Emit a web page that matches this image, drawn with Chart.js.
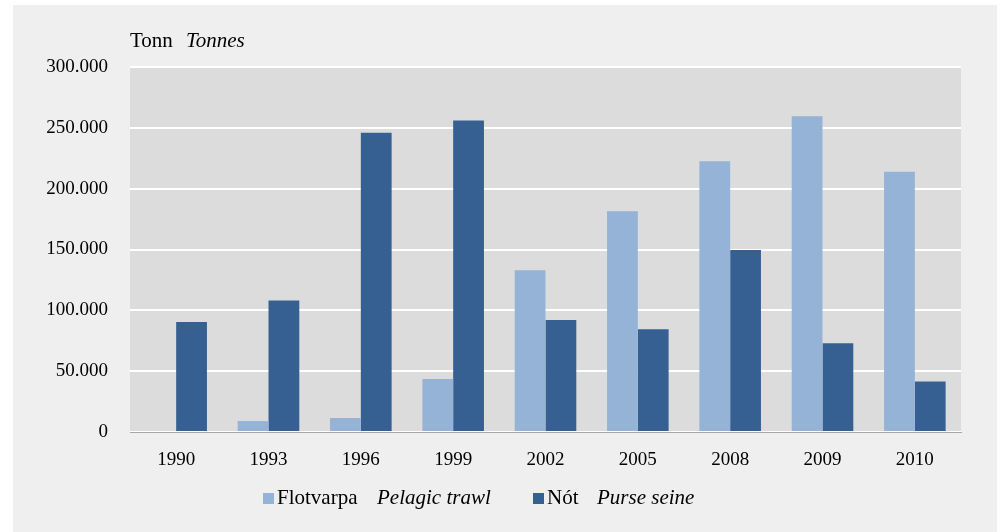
<!DOCTYPE html>
<html>
<head>
<meta charset="utf-8">
<script src="https://cdn.jsdelivr.net/npm/chart.js@4/dist/chart.umd.min.js"></script>
<style>
  html, body { margin: 0; padding: 0; background: #ffffff; }
  #wrap { position: relative; width: 1002px; height: 532px; overflow: hidden; }
  #panel { position: absolute; left: 13px; top: 5px; width: 984px; height: 527px; background: #efefef; }
  #c { position: absolute; left: 0; top: 0; }
  .txt { position: absolute; font-family: "Liberation Serif", "Times New Roman", serif; font-size: 21px; line-height: 24px; color: #000; white-space: nowrap; }
  .sw { position: absolute; width: 11px; height: 11px; }
  .it { font-style: italic; }
</style>
</head>
<body>
<div id="wrap">
  <div id="panel"></div>
  <canvas id="c" width="1002" height="532"></canvas>
  <div class="txt" style="left:130px; top:28px;">Tonn</div>
  <div class="txt it" style="left:186px; top:28px;">Tonnes</div>
  <div class="sw" style="left:263px; top:493px; background:#95b3d7"></div>
  <div class="txt" style="left:277px; top:485px;">Flotvarpa</div>
  <div class="txt it" style="left:377px; top:485px;">Pelagic trawl</div>
  <div class="sw" style="left:533px; top:493px; background:#376092"></div>
  <div class="txt" style="left:547px; top:485px;">Nót</div>
  <div class="txt it" style="left:597px; top:485px;">Purse seine</div>
</div>
<script>
const categories = ["1990", "1993", "1996", "1999", "2002", "2005", "2008", "2009", "2010"];
const pelagicTrawl = [0, 9000, 11500, 43500, 133000, 181500, 222500, 259500, 214000];
const purseSeine = [90500, 108000, 246000, 256000, 92000, 84500, 149500, 73000, 41500];
const yTicks = [0, 50000, 100000, 150000, 200000, 250000, 300000];

function fmt(v) {
  if (v === 0) return "0";
  const s = String(Math.round(v));
  return s.replace(/\B(?=(\d{3})+(?!\d))/g, ".");
}

const plotBg = {
  id: "plotBg",
  beforeDraw(chart) {
    const a = chart.chartArea, ctx = chart.ctx;
    ctx.save();
    ctx.fillStyle = "#dcdcdc";
    ctx.fillRect(a.left, a.top, a.right - a.left, a.bottom - a.top);
    ctx.restore();
  }
};

new Chart(document.getElementById("c"), {
  type: "bar",
  data: {
    labels: categories,
    datasets: [
      { label: "Flotvarpa Pelagic trawl", data: pelagicTrawl, backgroundColor: "#95b3d7", categoryPercentage: 0.667, barPercentage: 1.0 },
      { label: "Nót Purse seine", data: purseSeine, backgroundColor: "#376092", categoryPercentage: 0.667, barPercentage: 1.0 }
    ]
  },
  plugins: [plotBg],
  options: {
    responsive: false,
    animation: false,
    layout: { padding: { top: 67, right: 41, left: 0, bottom: 0 } },
    plugins: { legend: { display: false }, tooltip: { enabled: false }, title: { display: false } },
    scales: {
      x: {
        grid: { display: false, drawTicks: false },
        border: { display: true, color: "#a6a6a6", width: 1 },
        ticks: { color: "#000", font: { family: "Liberation Serif", size: 19 }, padding: 17, maxRotation: 0 },
        afterFit(s) { s.height = 100; }
      },
      y: {
        min: 0, max: 300000,
        afterBuildTicks(s) { s.ticks = yTicks.map(v => ({ value: v })); },
        grid: { color: "#ffffff", lineWidth: 2, drawTicks: false },
        border: { display: false },
        ticks: { color: "#000", font: { family: "Liberation Serif", size: 19 }, padding: 22, callback: v => fmt(v) },
        afterFit(s) { s.width = 130; }
      }
    }
  }
});
</script>
</body>
</html>
